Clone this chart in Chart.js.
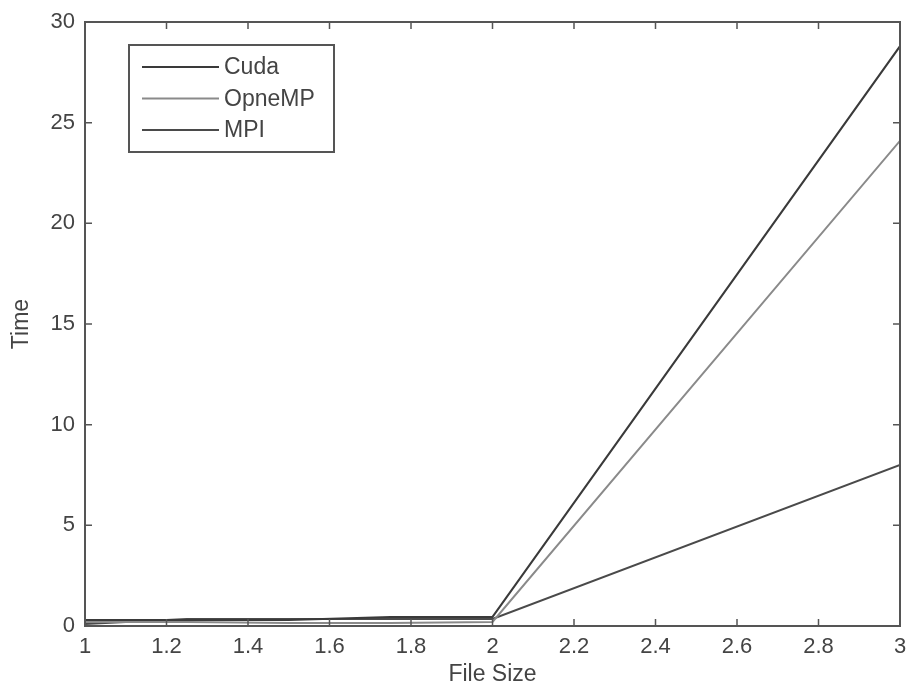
<!DOCTYPE html>
<html>
<head>
<meta charset="utf-8">
<script src="https://cdn.jsdelivr.net/npm/chart.js@4.4.0/dist/chart.umd.min.js"></script>
<style>
  html, body { margin: 0; padding: 0; background: #fff; }
  #wrap { width: 907px; height: 690px; position: relative; }
</style>
</head>
<body>
<div id="wrap"><canvas id="grafico"></canvas></div>
<script>
// datos
const fileSize = [1, 1.25, 1.5, 1.75, 2, 3];
const cudaTime = [0.3, 0.3, 0.3, 0.45, 0.45, 28.8];
const openmpTime = [0.2, 0.2, 0.15, 0.15, 0.2, 24.1];
const mpiTime = [0.1, 0.35, 0.35, 0.35, 0.35, 8.0];
const xTicks = [1, 1.2, 1.4, 1.6, 1.8, 2, 2.2, 2.4, 2.6, 2.8, 3];
const yTicks = [0, 5, 10, 15, 20, 25, 30];

const FONT = '"Liberation Sans", Arial, sans-serif';
const AXIS = '#555';
const TEXT = '#444';

const toPoints = ys => fileSize.map((x, i) => ({ x, y: ys[i] }));

// caja estilo matlab + ticks hacia adentro + leyenda dentro del area
const boxPlugin = {
  id: 'boxPlugin',
  afterDatasetsDraw(chart) {
    const { ctx, chartArea: a, scales } = chart;
    ctx.save();
    ctx.strokeStyle = AXIS;
    ctx.lineWidth = 2;
    ctx.strokeRect(a.left, a.top, a.right - a.left, a.bottom - a.top);
    ctx.lineWidth = 1.5;
    ctx.beginPath();
    for (const v of xTicks) {
      const px = scales.x.getPixelForValue(v);
      ctx.moveTo(px, a.bottom); ctx.lineTo(px, a.bottom - 7);
      ctx.moveTo(px, a.top); ctx.lineTo(px, a.top + 7);
    }
    for (const v of yTicks) {
      const py = scales.y.getPixelForValue(v);
      ctx.moveTo(a.left, py); ctx.lineTo(a.left + 7, py);
      ctx.moveTo(a.right, py); ctx.lineTo(a.right - 7, py);
    }
    ctx.stroke();

    // leyenda
    const lx = a.left + 44, ly = a.top + 23, lw = 205, lh = 107;
    ctx.fillStyle = '#fff';
    ctx.fillRect(lx, ly, lw, lh);
    ctx.strokeStyle = AXIS;
    ctx.lineWidth = 2;
    ctx.strokeRect(lx, ly, lw, lh);
    ctx.font = '23px ' + FONT;
    ctx.textBaseline = 'middle';
    chart.data.datasets.forEach((ds, i) => {
      const y = ly + 22 + i * 31.5;
      ctx.strokeStyle = ds.borderColor;
      ctx.lineWidth = 2;
      ctx.beginPath();
      ctx.moveTo(lx + 13, y); ctx.lineTo(lx + 90, y);
      ctx.stroke();
      ctx.fillStyle = TEXT;
      ctx.fillText(ds.label, lx + 95, y + 1);
    });
    ctx.restore();
  }
};

new Chart(document.getElementById('grafico'), {
  type: 'line',
  data: {
    datasets: [
      { label: 'Cuda', data: toPoints(cudaTime), borderColor: '#3a3a3a' },
      { label: 'OpneMP', data: toPoints(openmpTime), borderColor: '#8a8a8a' },
      { label: 'MPI', data: toPoints(mpiTime), borderColor: '#4a4a4a' }
    ]
  },
  options: {
    responsive: true,
    maintainAspectRatio: false,
    animation: false,
    layout: { padding: { top: 22, right: 7, left: 0, bottom: 0 } },
    elements: {
      point: { radius: 0 },
      line: { borderWidth: 2, tension: 0 }
    },
    plugins: {
      legend: { display: false },
      tooltip: { enabled: false }
    },
    scales: {
      x: {
        type: 'linear',
        min: 1, max: 3,
        afterBuildTicks: s => { s.ticks = xTicks.map(v => ({ value: v })); },
        afterFit: s => { s.height = 64; s.paddingLeft = 0; s.paddingRight = 0; },
        grid: { display: false, drawTicks: false },
        border: { display: false },
        ticks: { color: TEXT, font: { family: FONT, size: 22 }, padding: 8, maxRotation: 0,
                 callback: v => String(v) },
        title: { display: true, text: 'File Size', color: TEXT, font: { family: FONT, size: 23 },
                 padding: { top: 0, bottom: 2 } }
      },
      y: {
        min: 0, max: 30,
        afterBuildTicks: s => { s.ticks = yTicks.map(v => ({ value: v })); },
        afterFit: s => { s.width = 85; s.paddingTop = 0; s.paddingBottom = 0; },
        grid: { display: false, drawTicks: false },
        border: { display: false },
        ticks: { color: TEXT, font: { family: FONT, size: 22 }, padding: 10 },
        title: { display: true, text: 'Time', color: TEXT, font: { family: FONT, size: 23 },
                 padding: { top: 8, bottom: 0 } }
      }
    }
  },
  plugins: [boxPlugin]
});
</script>
</body>
</html>
